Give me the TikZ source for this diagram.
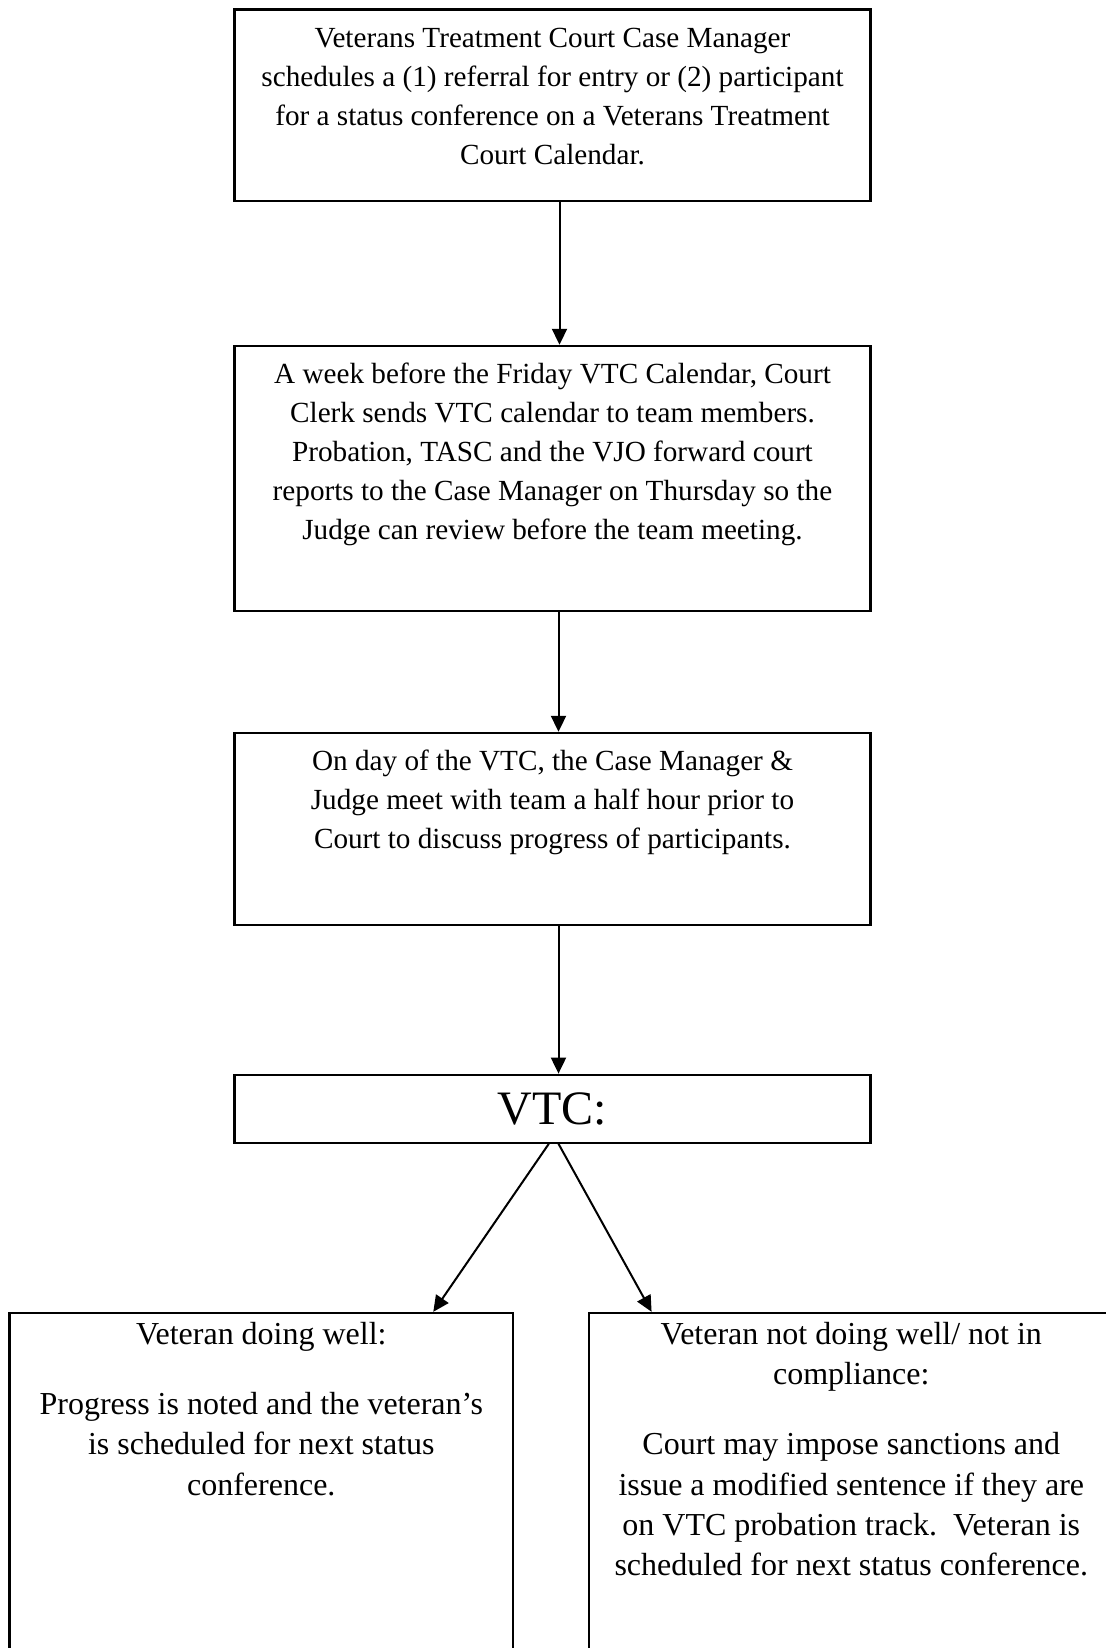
\documentclass[tikz,border=0pt]{standalone}
\usepackage{fontspec}
\setmainfont{Liberation Serif}
\usetikzlibrary{arrows.meta,positioning}

\begin{document}
\begin{tikzpicture}[
  every node/.style={font=\fontsize{14.6pt}{19.5pt}\selectfont},
  stepbox/.style={draw, line width=1.1pt, inner sep=0pt, text width=318pt, align=flush center, text height=19pt},
  outcome/.style={draw, line width=1.1pt, inner sep=0pt, align=flush center, text height=15.8pt, text depth=165pt,
    font=\fontsize{16pt}{20.1pt}\selectfont},
  arr/.style={-{Triangle[length=8pt,width=7.5pt]}, line width=1pt}
]
\useasboundingbox (0,0) rectangle (553pt,-824pt);

\node[stepbox, text depth=76.6pt, anchor=north] (sched) at (276.25pt,-4.2pt)
  {Veterans Treatment Court Case Manager\\
   schedules a (1) referral for entry or (2) participant\\
   for a status conference on a Veterans Treatment\\
   Court Calendar.};
\node[stepbox, text depth=113.5pt, below=71.5pt of sched] (reports)
  {A week before the Friday VTC Calendar, Court\\
   Clerk sends VTC calendar to team members.\\
   Probation, TASC and the VJO forward court\\
   reports to the Case Manager on Thursday so the\\
   Judge can review before the team meeting.};
\node[stepbox, text depth=77.2pt, below=59.9pt of reports] (meeting)
  {On day of the VTC, the Case Manager \&\\
   Judge meet with team a half hour prior to\\
   Court to discuss progress of participants.};
\node[draw, line width=1.1pt, minimum width=318pt, minimum height=34pt, inner sep=0pt,
  font=\fontsize{24pt}{28pt}\selectfont, below=73.6pt of meeting] (vtc) {VTC:};

\node[outcome, text width=251.75pt, below=84pt of vtc, xshift=-145.6pt] (well)
  {Veteran doing well:\\[15pt]
   Progress is noted and the veteran’s\\
   is scheduled for next status\\
   conference.};
\node[outcome, text width=262.6pt, below=84pt of vtc, xshift=149.4pt] (notwell)
  {Veteran not doing well/ not in\\
   compliance:\\[15pt]
   Court may impose sanctions and\\
   issue a modified sentence if they are\\
   on VTC probation track.\ \ Veteran is\\
   scheduled for next status conference.};

\foreach \a/\b/\s in {sched/reports/3.5pt, reports/meeting/3pt, meeting/vtc/3pt}
  \draw[arr] ([xshift=\s]\a.south) -- ([xshift=\s]\b.north);
\draw[arr] ([xshift=-1.85pt]vtc.south) -- ([xshift=86pt]well.north);
\draw[arr] ([xshift=3pt]vtc.south) -- ([xshift=32pt]notwell.north west);
\end{tikzpicture}
\end{document}
